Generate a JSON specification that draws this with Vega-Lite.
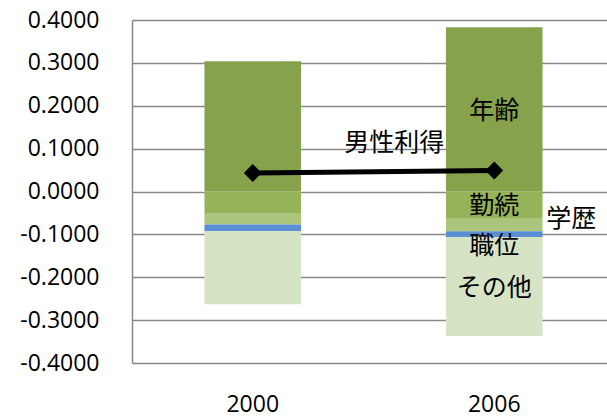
{
  "$schema": "https://vega.github.io/schema/vega-lite/v6.json",
  "width": 483,
  "height": 343,
  "autosize": {"type": "none"},
  "padding": {"left": 132, "top": 20, "right": 0, "bottom": 54},
  "background": "white",
  "config": {"view": {"stroke": null}, "font": "Open Sans"},
  "datasets": {
    "bars": [
      {"year": "2000", "factor": "年齢", "ord": 1, "value": 0.304},
      {"year": "2000", "factor": "勤続", "ord": 2, "value": -0.052},
      {"year": "2000", "factor": "学歴", "ord": 3, "value": -0.025},
      {"year": "2000", "factor": "職位", "ord": 4, "value": -0.015},
      {"year": "2000", "factor": "その他", "ord": 5, "value": -0.171},
      {"year": "2006", "factor": "年齢", "ord": 1, "value": 0.383},
      {"year": "2006", "factor": "勤続", "ord": 2, "value": -0.062},
      {"year": "2006", "factor": "学歴", "ord": 3, "value": -0.031},
      {"year": "2006", "factor": "職位", "ord": 4, "value": -0.013},
      {"year": "2006", "factor": "その他", "ord": 5, "value": -0.231}
    ],
    "line": [
      {"year": "2000", "series": "男性利得", "value": 0.043},
      {"year": "2006", "series": "男性利得", "value": 0.049}
    ],
    "labels": [
      {"year": "2006", "label": "年齢", "pos": 0.188},
      {"year": "2006", "label": "勤続", "pos": -0.033},
      {"year": "2006", "label": "職位", "pos": -0.127},
      {"year": "2006", "label": "その他", "pos": -0.226}
    ],
    "labelLeft": [
      {"year": "2006", "label": "男性利得", "pos": 0.112}
    ],
    "labelRight": [
      {"year": "2006", "label": "学歴", "pos": -0.065}
    ]
  },
  "encoding": {
    "x": {
      "field": "year",
      "type": "nominal",
      "scale": {"domain": ["2000", "2006"], "paddingInner": 0.6, "paddingOuter": 0.3},
      "axis": {
        "title": null,
        "labelAngle": 0,
        "labelFont": "Open Sans",
        "labelFontSize": 23,
        "labelColor": "#000000",
        "labelPadding": 30,
        "ticks": false,
        "domain": false,
        "grid": false
      }
    }
  },
  "layer": [
    {
      "data": {"name": "bars"},
      "mark": {"type": "bar"},
      "encoding": {
        "y": {
          "field": "value",
          "type": "quantitative",
          "stack": "zero",
          "scale": {"domain": [-0.4, 0.4], "nice": false},
          "axis": {
            "title": null,
            "values": [-0.4, -0.3, -0.2, -0.1, 0, 0.1, 0.2, 0.3, 0.4],
            "labelExpr": "replace(format(datum.value, '.4f'), '−', '-')",
            "labelFont": "Open Sans",
            "labelFontSize": 23,
            "labelColor": "#000000",
            "labelPadding": 33,
            "ticks": false,
            "domain": true,
            "domainColor": "#888888",
            "domainWidth": 1.5,
            "grid": true,
            "gridColor": "#888888",
            "gridWidth": 1.5
          }
        },
        "color": {
          "field": "factor",
          "type": "nominal",
          "scale": {
            "domain": ["年齢", "勤続", "学歴", "職位", "その他"],
            "range": ["#86A24B", "#97B35A", "#ABC57D", "#5A8FD6", "#D7E3C5"]
          },
          "legend": null
        },
        "order": {"field": "ord", "type": "quantitative", "sort": "ascending"}
      }
    },
    {
      "data": {"name": "line"},
      "mark": {"type": "line", "color": "#000000", "strokeWidth": 5},
      "encoding": {
        "y": {"field": "value", "type": "quantitative"}
      }
    },
    {
      "data": {"name": "line"},
      "mark": {"type": "point", "shape": "diamond", "filled": true, "color": "#000000", "size": 320, "opacity": 1},
      "encoding": {
        "y": {"field": "value", "type": "quantitative"}
      }
    },
    {
      "data": {"name": "labels"},
      "mark": {"type": "text", "font": "Noto Sans CJK JP", "fontSize": 25, "color": "#000000", "baseline": "middle", "align": "center"},
      "encoding": {
        "y": {"field": "pos", "type": "quantitative"},
        "text": {"field": "label"}
      }
    },
    {
      "data": {"name": "labelLeft"},
      "mark": {"type": "text", "font": "Noto Sans CJK JP", "fontSize": 25, "color": "#000000", "baseline": "middle", "align": "center", "dx": -100},
      "encoding": {
        "y": {"field": "pos", "type": "quantitative"},
        "text": {"field": "label"}
      }
    },
    {
      "data": {"name": "labelRight"},
      "mark": {"type": "text", "font": "Noto Sans CJK JP", "fontSize": 25, "color": "#000000", "baseline": "middle", "align": "center", "dx": 77},
      "encoding": {
        "y": {"field": "pos", "type": "quantitative"},
        "text": {"field": "label"}
      }
    }
  ]
}
